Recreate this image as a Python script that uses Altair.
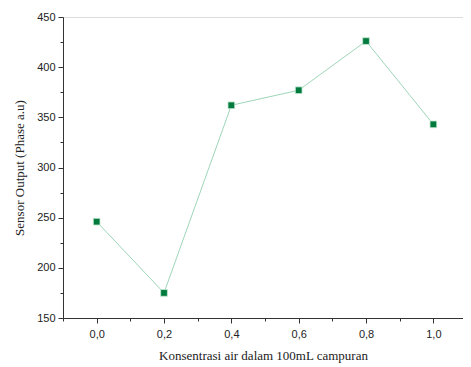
import altair as alt
import pandas as pd

konsentrasi = [0.0, 0.2, 0.4, 0.6, 0.8, 1.0]
output = [246, 175, 362, 377, 426, 343]

x_major = [0.0, 0.2, 0.4, 0.6, 0.8, 1.0]
x_minor = [-0.1, 0.1, 0.3, 0.5, 0.7, 0.9]
y_major = [150, 200, 250, 300, 350, 400, 450]
y_minor = [175, 225, 275, 325, 375, 425]

df = pd.DataFrame({"x": konsentrasi, "y": output})

xs = alt.Scale(domain=[-0.1, 1.088], nice=False, zero=False)
ys = alt.Scale(domain=[150, 450], nice=False, zero=False)

axis_common = dict(grid=False, domainColor="#333333", tickColor="#333333",
                   labelColor="#222222", labelFont="Liberation Sans", labelFontSize=11,
                   titleFont="Liberation Serif", titleFontSize=13, titleFontWeight="normal",
                   titleColor="#222222", domainWidth=1, tickWidth=1)

x_axis = alt.Axis(values=x_major, tickSize=5,
                  labelExpr="replace(format(datum.value, '.1f'), '.', ',')",
                  labelPadding=5, titlePadding=10,
                  title="Konsentrasi air dalam 100mL campuran", orient="bottom", **axis_common)
y_axis = alt.Axis(values=y_major, tickSize=5, labelPadding=3, titlePadding=10,
                  title="Sensor Output (Phase a.u)", orient="left", **axis_common)

line = alt.Chart(df).mark_line(color="#9ed6b8", strokeWidth=1).encode(
    x=alt.X("x:Q", scale=xs, axis=x_axis),
    y=alt.Y("y:Q", scale=ys, axis=y_axis),
)
points = alt.Chart(df).mark_point(shape="square", filled=True, size=45,
                                  color="#007a3d", stroke="#c8e8d4", strokeWidth=0.8,
                                  opacity=1).encode(
    x=alt.X("x:Q", scale=xs, axis=None),
    y=alt.Y("y:Q", scale=ys, axis=None),
)
minor = alt.Chart(df).mark_point(opacity=0).encode(
    x=alt.X("x:Q", scale=xs, axis=alt.Axis(values=x_minor, tickSize=3, labels=False,
                                           domain=False, title=None, grid=False,
                                           tickColor="#333333", orient="bottom")),
    y=alt.Y("y:Q", scale=ys, axis=alt.Axis(values=y_minor, tickSize=3, labels=False,
                                           domain=False, title=None, grid=False,
                                           tickColor="#333333", orient="left")),
)

chart = alt.layer(line, points, minor).resolve_axis(x="independent", y="independent").properties(
    width=400, height=301,
    autosize=alt.AutoSizeParams(type="none"),
    padding={"left": 55, "top": 9, "right": 0, "bottom": 45},
).configure_view(stroke=None).configure(background="white")

chart.save("out.html", embed_options={"renderer": "svg", "actions": False})
